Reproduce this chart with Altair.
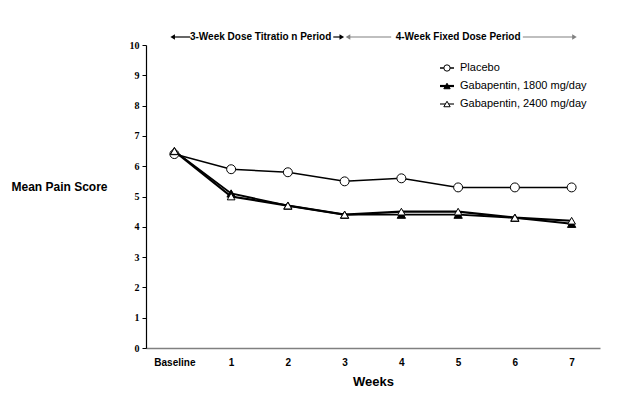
import json
import altair as alt
import pandas as pd

# ---- data ----
weeks = [0, 1, 2, 3, 4, 5, 6, 7]
week_labels = ["Baseline", "1", "2", "3", "4", "5", "6", "7"]
series_names = ["Placebo", "Gabapentin, 1800 mg/day", "Gabapentin, 2400 mg/day"]
placebo = [6.4, 5.9, 5.8, 5.5, 5.6, 5.3, 5.3, 5.3]
gaba1800 = [6.5, 5.1, 4.7, 4.4, 4.4, 4.4, 4.3, 4.1]
gaba2400 = [6.5, 5.0, 4.7, 4.4, 4.5, 4.5, 4.3, 4.2]

period_labels = ["3-Week Dose Titratio n Period", "4-Week Fixed Dose Period"]
period_mid = [1.52, 5.0]
period_start = [-0.03, 3.06]
period_end = [2.95, 7.05]
gap_start = [0.28, 3.82]
gap_end = [2.80, 6.14]
period_color = ["black", "#808080"]

rows = []
for name, vals in zip(series_names, [placebo, gaba1800, gaba2400]):
    for w, v in zip(weeks, vals):
        rows.append({"series": name, "week": w, "score": v})
df = pd.DataFrame(rows)

seg_rows = []
for i in range(2):
    seg_rows.append({"week": period_start[i], "x2": gap_start[i], "c": period_color[i]})
    seg_rows.append({"week": gap_end[i], "x2": period_end[i], "c": period_color[i]})
seg_df = pd.DataFrame(seg_rows)

head_rows = []
for i in range(2):
    head_rows.append({"week": period_start[i], "shape": "triangle-left", "c": period_color[i]})
    head_rows.append({"week": period_end[i], "shape": "triangle-right", "c": period_color[i]})
head_df = pd.DataFrame(head_rows)

text_df = pd.DataFrame({"week": period_mid, "label": period_labels})

label_expr = json.dumps(week_labels) + "[datum.value]"

x_enc = alt.X(
    "week:Q",
    scale=alt.Scale(domain=[-0.5, 7.5], nice=False, zero=False),
    axis=alt.Axis(
        values=weeks, labelExpr=label_expr, ticks=False, grid=False,
        domainColor="#808080", domainWidth=1.5,
        labelFont="Liberation Sans", labelFontWeight="bold", labelFontSize=10,
        labelColor="black", labelPadding=9,
        title="Weeks", titleFont="Liberation Sans", titleFontWeight="bold",
        titleFontSize=13, titleColor="black", titlePadding=8,
    ),
)
y_enc = alt.Y(
    "score:Q",
    scale=alt.Scale(domain=[0, 10], nice=False),
    axis=alt.Axis(
        values=list(range(0, 11)), tickCount=11, grid=False, tickSize=4, tickColor="black",
        domainColor="black", domainWidth=1.2, labelOverlap=False,
        labelFont="Liberation Serif", labelFontWeight="bold", labelFontSize=10,
        labelColor="black", labelPadding=3,
        title="Mean Pain Score", titleAngle=0, titleX=-87, titleY=141,
        titleAlign="center", titleBaseline="middle",
        titleFont="Liberation Sans", titleFontWeight="bold", titleFontSize=12,
        titleColor="black",
    ),
)

shape_scale = alt.Scale(domain=series_names, range=["circle", "triangle-up", "triangle-up"])
fill_scale = alt.Scale(domain=series_names, range=["white", "black", "white"])
width_scale = alt.Scale(domain=series_names, range=[1.5, 2.2, 1.1])

lines = alt.Chart(df).mark_line(color="black").encode(
    x=x_enc, y=y_enc,
    detail="series:N",
    strokeWidth=alt.StrokeWidth("series:N", scale=width_scale, legend=None),
)
points = alt.Chart(df).mark_point(filled=True, stroke="black", strokeWidth=1, opacity=1).encode(
    x=x_enc, y=y_enc,
    shape=alt.Shape("series:N", scale=shape_scale, legend=None),
    fill=alt.Fill("series:N", scale=fill_scale, legend=None),
    size=alt.Size("series:N", scale=alt.Scale(domain=series_names, range=[80, 60, 60]), legend=None),
    order=alt.Order("series_order:Q"),
).transform_calculate(
    series_order="indexof(" + json.dumps(series_names) + ", datum.series)"
)

segs = alt.Chart(seg_df).mark_rule(strokeWidth=1.2).encode(
    x=x_enc, x2="x2:Q", y=alt.value(-8),
    color=alt.Color("c:N", scale=None),
)
heads = alt.Chart(head_df).mark_point(filled=True, size=28, opacity=1).encode(
    x=x_enc, y=alt.value(-8),
    shape=alt.Shape("shape:N", scale=None),
    color=alt.Color("c:N", scale=None),
)
texts = alt.Chart(text_df).mark_text(
    font="Liberation Sans", fontWeight="bold", fontSize=10, color="black",
    baseline="middle", align="center",
).encode(x=x_enc, y=alt.value(-8), text="label:N")

# ---- manual legend (layout positions only) ----
legend_layers = []
leg_shapes = ["circle", "triangle-up", "triangle-up"]
leg_fills = ["white", "black", "white"]
leg_widths = [1.5, 2.2, 1.1]
for i, name in enumerate(series_names):
    ly = 23 + 18 * i
    ldf = pd.DataFrame({"series": [name]})
    legend_layers.append(
        alt.Chart(ldf).mark_rule(color="black", strokeWidth=leg_widths[i]).encode(
            x=alt.value(294), x2=alt.value(308), y=alt.value(ly))
    )
    legend_layers.append(
        alt.Chart(ldf).mark_point(shape=leg_shapes[i], filled=True, fill=leg_fills[i],
                                  stroke="black", strokeWidth=1, size=40, opacity=1).encode(
            x=alt.value(301), y=alt.value(ly))
    )
    legend_layers.append(
        alt.Chart(ldf).mark_text(font="Liberation Sans", fontSize=11, color="black",
                                 align="left", baseline="middle").encode(
            x=alt.value(314), y=alt.value(ly), text="series:N")
    )

chart = alt.layer(lines, points, segs, heads, texts, *legend_layers).properties(
    width=454, height=303,
    padding={"left": 138, "top": 37, "right": 25, "bottom": 40},
    autosize=alt.AutoSizeParams(type="none"),
    background="white",
).configure_view(stroke=None)

chart.save("out.html", embed_options={"renderer": "svg", "actions": False})
